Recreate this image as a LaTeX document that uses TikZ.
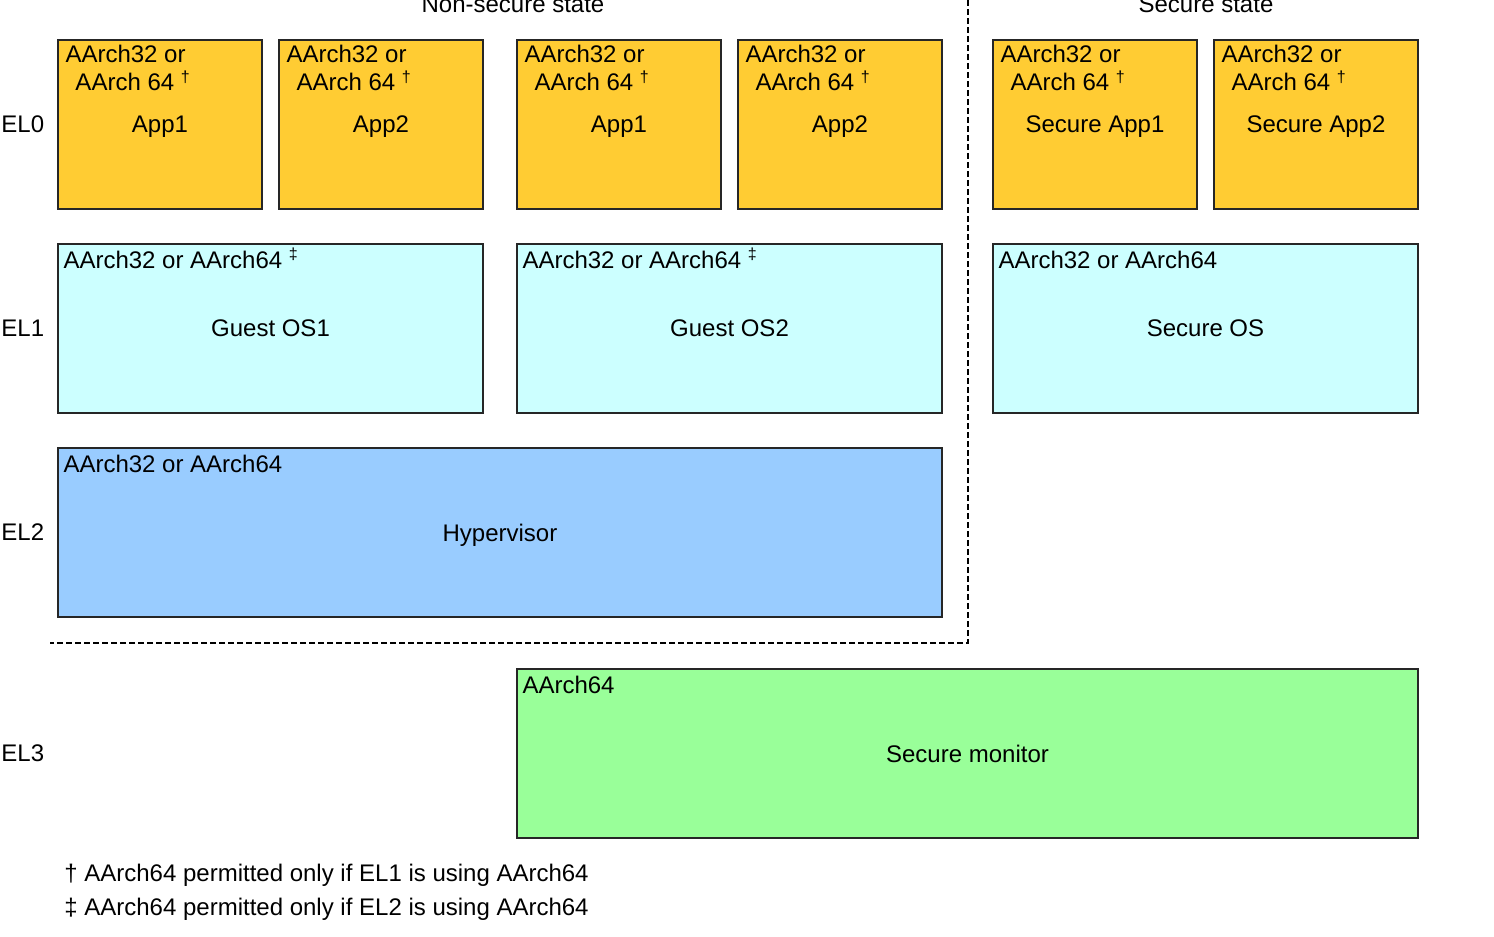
\documentclass[tikz,border=0pt]{standalone}
\usepackage{fontspec}
\setmainfont{Liberation Sans}
\definecolor{appyellow}{HTML}{FFCC33}
\definecolor{oscyan}{HTML}{CCFFFF}
\definecolor{hypblue}{HTML}{99CCFF}
\definecolor{mongreen}{HTML}{99FF99}

\begin{document}
\begin{tikzpicture}
		[x=0.5pt,y=-0.5pt,font=\fontsize{12}{14}\selectfont,
		elbox/.style={draw=black!85,line width=0.9pt,minimum height=84.5pt,inner sep=0pt,text depth=0pt},
		appbox/.style={elbox,fill=appyellow,minimum width=102pt},
		osbox/.style={elbox,fill=oscyan,minimum width=212.5pt},
		tag/.style={anchor=north west,inner sep=0pt,align=left},
		border/.style={dashed,dash pattern=on 3pt off 1.5pt,line width=0.7pt}]
		\useasboundingbox (0,0) rectangle (1494,937);

		\node[anchor=base] (nonsec) at (513,12) {Non-secure state};
		\node[anchor=base] (sec) at (1206,12) {Secure state};

		\node[anchor=west,inner sep=0pt] (el0) at (1,124.5) {EL0};
		\node[anchor=west,inner sep=0pt] (el1) at (1,328.5) {EL1};
		\node[anchor=west,inner sep=0pt] (el2) at (1,532.5) {EL2};
		\node[anchor=west,inner sep=0pt] (el3) at (1,753.5) {EL3};

		% EL0
		\node[appbox] (app1) at (160,124.5) {App1};
		\node[appbox] (app2) at (381,124.5) {App2};
		\node[appbox] (app3) at (619,124.5) {App1};
		\node[appbox] (app4) at (840,124.5) {App2};
		\node[appbox] (sapp1) at (1095,124.5) {Secure App1};
		\node[appbox] (sapp2) at (1316,124.5) {Secure App2};
		\foreach \n in {app1,app2,app3,app4,sapp1,sapp2}
			\node[tag] at ([shift={(4pt,-3pt)}]\n.north west)
				{AArch32 or\\\hspace*{5pt}AArch 64 \textsuperscript{†}};

		% EL1
		\node[osbox] (os1) at (270.5,328.5) {Guest OS1};
		\node[osbox] (os2) at (729.5,328.5) {Guest OS2};
		\node[osbox] (sos) at (1205.5,328.5) {Secure OS};
		\node[anchor=base west,inner sep=0pt] at ([shift={(3pt,-12.5pt)}]os1.north west)
			{AArch32 or AArch64 \textsuperscript{‡}};
		\node[anchor=base west,inner sep=0pt] at ([shift={(3pt,-12.5pt)}]os2.north west)
			{AArch32 or AArch64 \textsuperscript{‡}};
		\node[anchor=base west,inner sep=0pt] at ([shift={(3pt,-12.5pt)}]sos.north west)
			{AArch32 or AArch64};

		% EL2 and EL3
		\node[elbox,fill=hypblue,minimum width=442pt] (hyp) at (500,532.5) {Hypervisor};
		\node[anchor=base west,inner sep=0pt] at ([shift={(3pt,-12.5pt)}]hyp.north west)
			{AArch32 or AArch64};
		\node[elbox,fill=mongreen,minimum width=450.5pt] (mon) at (967.5,753.5) {Secure monitor};
		\node[anchor=base west,inner sep=0pt] at ([shift={(3pt,-12.5pt)}]mon.north west)
			{AArch64};

		% state border
		\coordinate (top) at (968,0);
		\coordinate (left) at (50,643);
		\draw[border] (top) |- (left);

		\node[anchor=base west,inner sep=0pt] (note1) at (64,881) {† AArch64 permitted only if EL1 is using AArch64};
		\node[anchor=base west,inner sep=0pt] (note2) at (64,915) {‡ AArch64 permitted only if EL2 is using AArch64};

	\end{tikzpicture}
\end{document}
